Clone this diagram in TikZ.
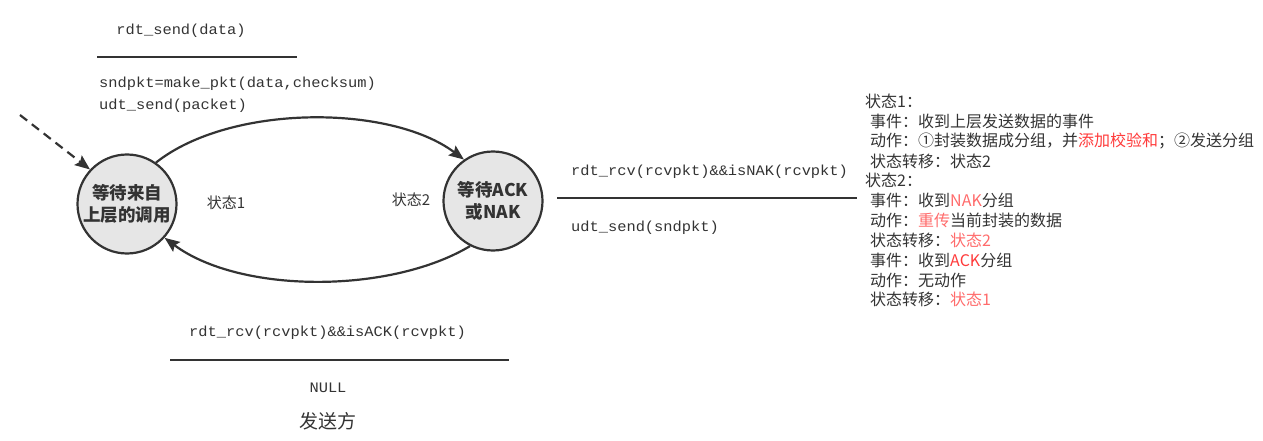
\documentclass[tikz,border=0pt]{standalone}
\usepackage{fontspec}
\usetikzlibrary{arrows.meta}
\newfontfamily\cjk{Noto Sans CJK SC}
\newfontfamily\mono{Liberation Mono}[FakeStretch=1.06]
\definecolor{tx}{HTML}{333333}
\definecolor{redA}{HTML}{FF3B3B}
\definecolor{redB}{HTML}{FF6B6B}
\definecolor{stfill}{HTML}{E6E6E6}
\tikzset{
  state/.style={circle, draw=tx, line width=2.2pt, fill=stfill, minimum size=99pt, inner sep=0pt, align=center, text=tx, font=\cjk\bfseries\fontsize{17.5}{21.5}\selectfont},
  code/.style={inner sep=0pt, text=tx, font=\mono\fontsize{14.5}{16}\selectfont},
  note/.style={inner sep=0pt, text=tx, anchor=west, font=\cjk\fontsize{16}{19}\selectfont},
  guard/.style={draw=tx, line width=2.4pt},
  trans/.style={draw=tx, line width=2.2pt, -{Stealth[length=15pt,width=12pt,inset=2.5pt]}},
}
\begin{document}
\begin{tikzpicture}[x=1pt,y=-1pt]
\useasboundingbox (0,0) rectangle (1263,441);
% states
\node[state] (L) at (127,204) {等待来自\\上层的调用};
\node[state] (R) at (493,201) {等待ACK\\或NAK};
% initial dashed arrow
\coordinate (init) at (20,115);
\draw[trans, dashed, dash pattern=on 9pt off 6pt] (init) -- (L.137);
% transitions
\draw[trans] (L.55) .. controls (230,104) and (390,104) .. (R.125);
\draw[trans] (R.243) .. controls (390,294) and (240,294) .. (L.318);
% state labels
\node[note, anchor=center, font=\cjk\fontsize{15}{18}\selectfont] (s1) at (226,203) {状态1};
\node[note, anchor=center, font=\cjk\fontsize{15}{18}\selectfont] (s2) at (411,200) {状态2};
% top label
\node[code] (t1) at (181,31) {rdt\_send(data)};
\coordinate (g1a) at (97,57);
\coordinate (g1b) at (297,57);
\draw[guard] (g1a) -- (g1b);
\node[code, anchor=west] (t2) at (99,84) {sndpkt=make\_pkt(data,checksum)};
\node[code, anchor=west] (t3) at (99,106) {udt\_send(packet)};
% right label
\node[code, anchor=west] (r1) at (571,172) {rdt\_rcv(rcvpkt)\&\&isNAK(rcvpkt)};
\coordinate (g2a) at (557,198);
\coordinate (g2b) at (857,198);
\draw[guard] (g2a) -- (g2b);
\node[code, anchor=west] (r2) at (571,228) {udt\_send(sndpkt)};
% bottom label
\node[code, anchor=west] (b1) at (189,333) {rdt\_rcv(rcvpkt)\&\&isACK(rcvpkt)};
\coordinate (g3a) at (170,360);
\coordinate (g3b) at (509,360);
\draw[guard] (g3a) -- (g3b);
\node[code] (b2) at (328,388) {NULL};
\node[note, anchor=center, font=\cjk\fontsize{19}{22}\selectfont] (cap) at (328,421) {发送方};
% notes
\node[note] (n1) at (865,101) {状态1：};
\node[note] (n2) at (870,121) {事件：收到上层发送数据的事件};
\node[note] (n3) at (870,141) {动作：①封装数据成分组，并\textcolor{redA}{添加校验和}；②发送分组};
\node[note] (n4) at (870,161) {状态转移：状态2};
\node[note] (n5) at (865,180) {状态2：};
\node[note] (n6) at (870,200) {事件：收到\textcolor{redB}{NAK}分组};
\node[note] (n7) at (870,220) {动作：\textcolor{redB}{重传}当前封装的数据};
\node[note] (n8) at (870,240) {状态转移：\textcolor{redB}{状态2}};
\node[note] (n9) at (870,260) {事件：收到\textcolor{redA}{ACK}分组};
\node[note] (n10) at (870,280) {动作：无动作};
\node[note] (n11) at (870,299) {状态转移：\textcolor{redB}{状态1}};
\end{tikzpicture}
\end{document}
